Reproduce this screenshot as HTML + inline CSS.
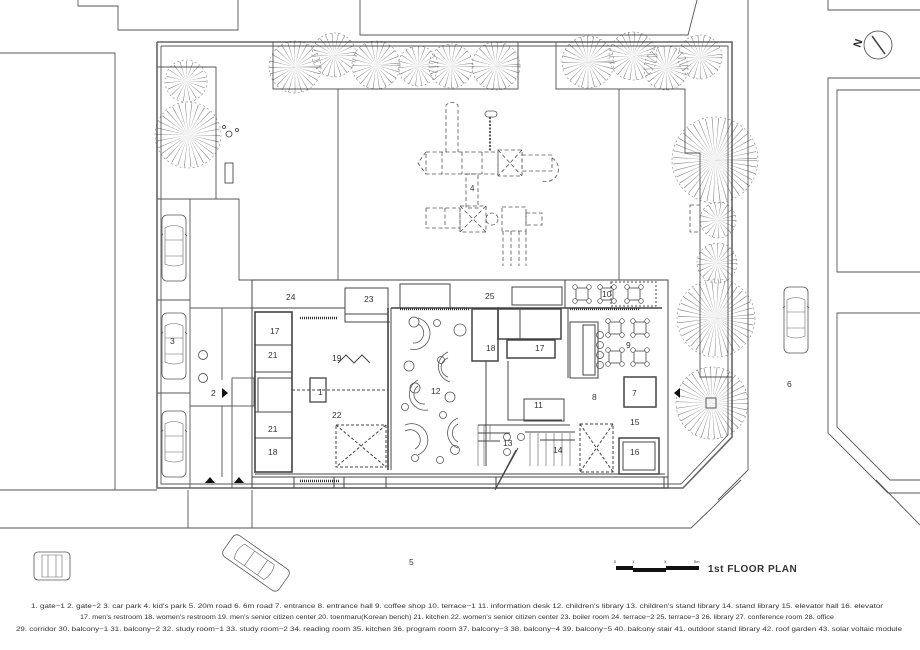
<!DOCTYPE html>
<html><head><meta charset="utf-8"><style>
html,body{margin:0;padding:0;background:#fff;}
svg{display:block}
text{font-family:"Liberation Sans",sans-serif;fill:#333}
</style></head><body>
<svg width="920" height="650" viewBox="0 0 920 650" xmlns="http://www.w3.org/2000/svg">
<defs>
<g id="car">
  <rect x="-12" y="-33" width="24" height="66" rx="5" fill="#fff" stroke="#555" stroke-width="0.8"/>
  <path d="M-9,-20 Q0,-25 9,-20 L9,16 Q0,20 -9,16 Z" fill="none" stroke="#666" stroke-width="0.6"/>
  <path d="M-9,-8 L9,-8 M-9,8 L9,8" stroke="#666" stroke-width="0.6"/>
  <path d="M-13,-12 L-11,-14 M13,-12 L11,-14" stroke="#555" stroke-width="0.8"/>
</g>
<g id="tbl">
  <rect x="-6" y="-6" width="12" height="12" fill="none" stroke="#444" stroke-width="0.8"/>
  <circle cx="-7" cy="-7" r="2.3" fill="#fff" stroke="#444" stroke-width="0.7"/>
  <circle cx="7" cy="-7" r="2.3" fill="#fff" stroke="#444" stroke-width="0.7"/>
  <circle cx="-7" cy="7" r="2.3" fill="#fff" stroke="#444" stroke-width="0.7"/>
  <circle cx="7" cy="7" r="2.3" fill="#fff" stroke="#444" stroke-width="0.7"/>
</g>
</defs>

<g fill="none" stroke="#555" stroke-width="0.9">
  <polyline points="78,0 78,6 118,6 118,30 238,30 238,0"/>
  <polyline points="360,0 360,35 688,35 697,0"/>
  <polyline points="0,53 115,53 115,490"/>
  <line x1="748" y1="0" x2="748" y2="470"/>
  <line x1="748" y1="470" x2="718" y2="500"/>
  <polyline points="828,0 828,10 920,10"/>
  <polyline points="920,78 828,78 828,433 888,493 920,493"/>
  <polyline points="920,90 837,90 837,272 920,272"/>
  <polyline points="920,313 837,313 837,427 890,480 920,480"/>
  <polyline points="876,480 920,525"/>
  <polyline points="0,528 691,528 741,480"/>
  <line x1="0" y1="490" x2="157" y2="490"/>
  <line x1="188" y1="490" x2="188" y2="528"/>
  <line x1="252" y1="490" x2="252" y2="528"/>
</g>

<g fill="none" stroke="#666" stroke-width="1.6">
  <polyline points="157,42 732,42 732,437 683,488 157,488 157,42"/>
</g>
<g fill="none" stroke="#555" stroke-width="0.9">
  <polyline points="161,46 728,46 728,435 681,484 161,484 161,46"/>
  <polyline points="157,67 216,67 216,199 239,199 239,280 338,280"/>
  <line x1="157" y1="199" x2="216" y2="199"/>
  <line x1="190" y1="199" x2="190" y2="488"/>
  <polyline points="273,42 273,89 518,89 518,42"/>
  <polyline points="556,42 556,89 685,89 685,153 700,153 700,377 732,377"/>
  <line x1="338" y1="89" x2="338" y2="280"/>
  <line x1="619" y1="89" x2="619" y2="280"/>
  <line x1="338" y1="280" x2="668" y2="280"/>
  <line x1="157" y1="300" x2="190" y2="300"/>
  <line x1="157" y1="393" x2="190" y2="393"/>
  <line x1="190" y1="308" x2="252" y2="308"/>
  <line x1="190" y1="406" x2="232" y2="406"/>
  <line x1="222" y1="308" x2="222" y2="380"/>
  <line x1="222" y1="406" x2="222" y2="477"/>
  <line x1="232" y1="380" x2="232" y2="488"/>
  <rect x="232" y="378" width="22" height="28"/>
  <circle cx="203" cy="355" r="4.5"/>
  <circle cx="203" cy="378" r="4.5"/>
</g>

<g fill="none" stroke="#555" stroke-width="0.8" stroke-dasharray="4 2.5">
  <path d="M446,152 L446,105 Q452,100 458,105 L458,152"/>
  <rect x="426" y="152" width="72" height="22"/>
  <path d="M426,152 L418,163 L426,174"/>
  <line x1="442" y1="152" x2="442" y2="174"/><line x1="462" y1="152" x2="462" y2="174"/><line x1="482" y1="152" x2="482" y2="174"/>
  <rect x="498" y="150" width="24" height="26"/>
  <path d="M498,150 L522,176 M522,150 L498,176"/>
  <rect x="522" y="155" width="30" height="16"/>
  <path d="M552,158 A12,12 0 1,1 540,180"/>
  <rect x="466" y="174" width="12" height="34"/>
  <rect x="426" y="208" width="34" height="20"/>
  <line x1="445" y1="208" x2="445" y2="228"/>
  <rect x="460" y="206" width="26" height="26"/>
  <path d="M460,206 L486,232 M486,206 L460,232"/>
  <circle cx="492" cy="219" r="6"/>
  <rect x="502" y="207" width="24" height="24"/>
  <rect x="526" y="213" width="16" height="12"/>
  <path d="M503,231 L503,266 M511,231 L511,266 M519,231 L519,266 M526,231 L526,266"/>
  <rect x="690" y="205" width="10" height="27"/>
</g>
<g fill="none" stroke="#555" stroke-width="0.8">
  <rect x="485" y="111" width="12" height="6" rx="3"/>
  <path d="M490,117 L490,152" stroke-dasharray="2 1.5" stroke-width="2"/>
</g>
<text x="470" y="191" font-size="8">4</text>

<g stroke="#333" fill="none" opacity="0.6">
  <g stroke-dasharray="0.35 3">
    <circle cx="186" cy="81" r="10" stroke-width="20"/>
    <circle cx="188" cy="135" r="16" stroke-width="32"/>
    <circle cx="295" cy="67" r="13" stroke-width="26"/>
    <circle cx="334" cy="55" r="11" stroke-width="22"/>
    <circle cx="376" cy="65" r="12" stroke-width="24"/>
    <circle cx="418" cy="66" r="10" stroke-width="20"/>
    <circle cx="451" cy="66" r="11" stroke-width="22"/>
    <circle cx="496" cy="66" r="12" stroke-width="24"/>
    <circle cx="588" cy="62" r="13" stroke-width="26"/>
    <circle cx="633" cy="56" r="12" stroke-width="24"/>
    <circle cx="666" cy="68" r="11" stroke-width="22"/>
    <circle cx="700" cy="57" r="11" stroke-width="22"/>
    <circle cx="715" cy="160" r="21" stroke-width="42"/>
    <circle cx="718" cy="220" r="9" stroke-width="18"/>
    <circle cx="717" cy="263" r="10" stroke-width="20"/>
    <circle cx="716" cy="318" r="19" stroke-width="38"/>
    <circle cx="712" cy="403" r="18" stroke-width="36"/>
  </g>
  <g stroke-width="0.6" stroke-dasharray="2 2.5">
    <circle cx="186" cy="81" r="21"/><circle cx="188" cy="135" r="33"/>
    <circle cx="295" cy="67" r="26"/><circle cx="334" cy="55" r="22"/><circle cx="376" cy="65" r="24"/>
    <circle cx="418" cy="66" r="20"/><circle cx="451" cy="66" r="22"/><circle cx="496" cy="66" r="24"/>
    <circle cx="588" cy="62" r="26"/><circle cx="633" cy="56" r="24"/><circle cx="666" cy="68" r="22"/><circle cx="700" cy="57" r="22"/>
    <circle cx="715" cy="160" r="43"/><circle cx="718" cy="220" r="18"/><circle cx="717" cy="263" r="20"/>
    <circle cx="716" cy="318" r="39"/><circle cx="712" cy="403" r="36"/>
  </g>
</g>
<g fill="none" stroke="#333" stroke-width="0.8">
  <circle cx="229" cy="134" r="3"/><circle cx="237" cy="130" r="1.5"/><circle cx="224" cy="127" r="1.5"/>
  <rect x="225" y="163" width="8" height="20"/>
  <rect x="706" y="398" width="10" height="10"/>
</g>

<g fill="none" stroke="#444" stroke-width="0.8">
  <circle cx="878" cy="45" r="14"/>
  <line x1="872" y1="36" x2="885" y2="54" stroke-width="1.5"/>
</g>
<text x="853" y="46" font-size="11" font-weight="bold" transform="rotate(-70 858 42)">N</text>

<use href="#car" x="174" y="248"/>
<use href="#car" x="174" y="346"/>
<use href="#car" x="174" y="444"/>
<use href="#car" x="796" y="320"/>
<g transform="translate(52,566)">
  <rect x="-18" y="-14" width="36" height="28" rx="4" fill="#fff" stroke="#555" stroke-width="0.8"/>
  <path d="M-10,-11 L10,-11 L10,11 L-10,11 Z M-4,-11 L-4,11 M4,-11 L4,11" fill="none" stroke="#666" stroke-width="0.6"/>
</g>
<g transform="translate(256,563) rotate(-55)">
  <rect x="-13" y="-34" width="26" height="68" rx="5" fill="#fff" stroke="#555" stroke-width="0.8"/>
  <path d="M-9,-20 Q0,-25 9,-20 L9,16 Q0,20 -9,16 Z M-9,-8 L9,-8 M-9,8 L9,8" fill="none" stroke="#666" stroke-width="0.6"/>
</g>

<g fill="none" stroke="#444" stroke-width="1">
  <rect x="252" y="280" width="416" height="208"/>
  <line x1="252" y1="477" x2="668" y2="477"/>
  <line x1="255" y1="474" x2="665" y2="474"/>
  <path d="M294,477 V488 M334,477 V488 M344,477 V488 M386,477 V488 M496,477 V488 M664,477 V488"/>
  <polyline points="252,308 345,308 345,322 390,322"/>
  <rect x="255" y="312" width="37" height="160" stroke-width="1.6"/>
  <line x1="255" y1="345" x2="292" y2="345"/>
  <line x1="255" y1="372" x2="292" y2="372"/>
  <line x1="255" y1="412" x2="292" y2="412"/>
  <line x1="255" y1="438" x2="292" y2="438"/>
  <rect x="258" y="378" width="34" height="34"/>
  <rect x="310" y="378" width="16" height="24" stroke-width="1.3"/>
  <line x1="292" y1="390" x2="388" y2="390" stroke-dasharray="3 2"/>
  <rect x="345" y="288" width="43" height="26"/>
  <line x1="388" y1="308" x2="388" y2="470" stroke-width="1.6"/>
  <line x1="391" y1="308" x2="391" y2="470"/>
  <line x1="391" y1="308" x2="662" y2="308" stroke-width="1.5"/>
  <rect x="336" y="425" width="50" height="42" stroke-dasharray="3 2"/>
  <path d="M336,425 L386,467 M386,425 L336,467" stroke-dasharray="3 2"/>
  <path d="M338,363 L346,355 L354,363 L362,355 L370,363" />
  <rect x="472" y="309" width="26" height="52" stroke-width="1.5"/>
  <rect x="498" y="309" width="63" height="30" stroke-width="1.5"/>
  <rect x="507" y="340" width="48" height="18" stroke-width="1.5"/>
  <line x1="520" y1="309" x2="520" y2="339"/>
  <line x1="486" y1="361" x2="486" y2="466"/>
  <polyline points="508,361 508,420 562,420"/>
  <rect x="524" y="399" width="40" height="22"/>
  <path d="M478,425 H570 M478,433 H510 M525,432 H575 M540,440 H575 M478,441 H500"/>
  <rect x="570" y="322" width="28" height="56" stroke-width="1"/>
  <rect x="583" y="325" width="12" height="50"/>
  <line x1="568" y1="308" x2="568" y2="378"/>
  <rect x="624" y="377" width="32" height="30" stroke-width="1.5"/>
  <rect x="619" y="438" width="40" height="36" stroke-width="1.5"/>
  <rect x="623" y="442" width="32" height="28"/>
  <rect x="580" y="424" width="33" height="48" stroke-dasharray="3 2"/>
  <path d="M580,424 L613,472 M613,424 L580,472" stroke-dasharray="3 2"/>
  <line x1="565" y1="280" x2="565" y2="308"/>
  <rect x="611" y="282" width="45" height="24" stroke-dasharray="2 2"/>
  <line x1="518" y1="448" x2="495" y2="490"/>
  <line x1="498" y1="484" x2="516" y2="450"/>
  <rect x="400" y="284" width="50" height="24"/>
  <rect x="512" y="287" width="50" height="18"/>
</g>
<g stroke="#555" stroke-width="0.6">
  <path d="M478,425 V466 M484,425 V466 M490,425 V440 M530,433 V466 M538,433 V466 M546,433 V466 M554,433 V466 M562,433 V466 M570,433 V466"/>
</g>
<g stroke="#333" stroke-width="2.5" stroke-dasharray="1 1">
  <line x1="300" y1="318" x2="338" y2="318"/>
  <line x1="300" y1="481" x2="340" y2="481"/>
  <line x1="400" y1="309" x2="470" y2="309"/>
  <line x1="570" y1="309" x2="640" y2="309"/>
</g>
<g fill="none" stroke="#555" stroke-width="0.8">
  <circle cx="414" cy="322" r="5"/><circle cx="437" cy="323" r="3.5"/><circle cx="460" cy="330" r="6"/>
  <circle cx="409" cy="366" r="5"/><circle cx="441" cy="360" r="3.5"/><circle cx="415" cy="388" r="5"/>
  <circle cx="450" cy="397" r="5"/><circle cx="405" cy="407" r="3.5"/><circle cx="443" cy="415" r="3.5"/>
  <circle cx="455" cy="450" r="4.5"/><circle cx="415" cy="458" r="3.5"/><circle cx="440" cy="460" r="3.5"/>
  <path d="M418,318 A16,16 0 0,1 410,349 M418,324 A10,10 0 0,1 413,343"/>
  <path d="M448,352 A16,16 0 0,0 450,382 M448,358 A10,10 0 0,0 448,377"/>
  <path d="M418,380 A16,16 0 0,0 428,410 M418,386 A10,10 0 0,0 425,404"/>
  <path d="M405,425 A16,16 0 0,1 418,455 M405,431 A10,10 0 0,1 415,449"/>
  <path d="M458,418 A16,16 0 0,0 458,448 M458,424 A10,10 0 0,0 458,442"/>
  <circle cx="507" cy="437" r="3.5"/><circle cx="521" cy="437" r="3.5"/><circle cx="507" cy="452" r="3.5"/>
  <circle cx="600" cy="335" r="3.5"/><circle cx="600" cy="345" r="3.5"/><circle cx="600" cy="355" r="3.5"/><circle cx="600" cy="365" r="3.5"/>
</g>
<use href="#tbl" x="582" y="294"/><use href="#tbl" x="607" y="294"/><use href="#tbl" x="634" y="294"/>
<use href="#tbl" x="615" y="328"/><use href="#tbl" x="640" y="328"/>
<use href="#tbl" x="615" y="357"/><use href="#tbl" x="640" y="357"/>
<g fill="#111">
  <path d="M222,388 L228,393 L222,398 Z"/>
  <path d="M205,483 L210,477 L215,483 Z"/>
  <path d="M234,483 L239,477 L244,483 Z"/>
  <path d="M680,388 L674,393 L680,398 Z"/>
</g>

<g font-size="8.5">
  <text x="286" y="300">24</text><text x="364" y="302">23</text><text x="485" y="299">25</text><text x="602" y="297">10</text>
  <text x="270" y="334">17</text><text x="268" y="358">21</text><text x="332" y="361">19</text><text x="211" y="396">2</text>
  <text x="318" y="395">1</text><text x="332" y="418">22</text><text x="268" y="432">21</text><text x="268" y="455">18</text>
  <text x="431" y="394">12</text><text x="486" y="351">18</text><text x="535" y="351">17</text><text x="626" y="348">9</text>
  <text x="592" y="400">8</text><text x="632" y="396">7</text><text x="630" y="425">15</text><text x="630" y="455">16</text>
  <text x="553" y="453">14</text><text x="503" y="446">13</text><text x="534" y="408">11</text><text x="170" y="344">3</text>
  <text x="787" y="387">6</text><text x="409" y="565">5</text>
</g>

<g fill="#111">
  <rect x="616" y="566" width="17" height="4"/>
  <rect x="633" y="568" width="33" height="4"/>
  <rect x="666" y="566" width="33" height="4"/>
</g>
<g font-size="4" fill="#333"><text x="614" y="563">0</text><text x="632" y="563">1</text><text x="664" y="563">3</text><text x="694" y="563">5m</text></g>
<text x="708" y="572" font-size="10" font-weight="bold" letter-spacing="0.5">1st FLOOR PLAN</text>

<g font-size="6.3" fill="#222">
  <text x="31" y="608" textLength="852" lengthAdjust="spacingAndGlyphs">1. gate−1  2. gate−2  3. car park  4. kid's park  5. 20m road  6. 6m road  7. entrance  8. entrance hall  9. coffee shop  10. terrace−1  11. information desk  12. children's library  13. children's stand library  14. stand library  15. elevator hall  16. elevator</text>
  <text x="80" y="619" textLength="754" lengthAdjust="spacingAndGlyphs">17. men's restroom  18. women's restroom  19. men's senior citizen center  20. toenmaru(Korean bench)  21. kitchen 22. women's senior citizen center  23. boiler room  24. terrace−2  25. terrace−3  26. library  27. conference room    28. office</text>
  <text x="16" y="631" textLength="886" lengthAdjust="spacingAndGlyphs">29. corridor  30. balcony−1  31. balcony−2  32. study room−1  33. study room−2  34. reading room  35. kitchen  36. program room  37. balcony−3  38. balcony−4  39. balcony−5  40. balcony stair  41. outdoor stand library  42. roof garden  43. solar voltaic module</text>
</g>
</svg>
</body></html>
